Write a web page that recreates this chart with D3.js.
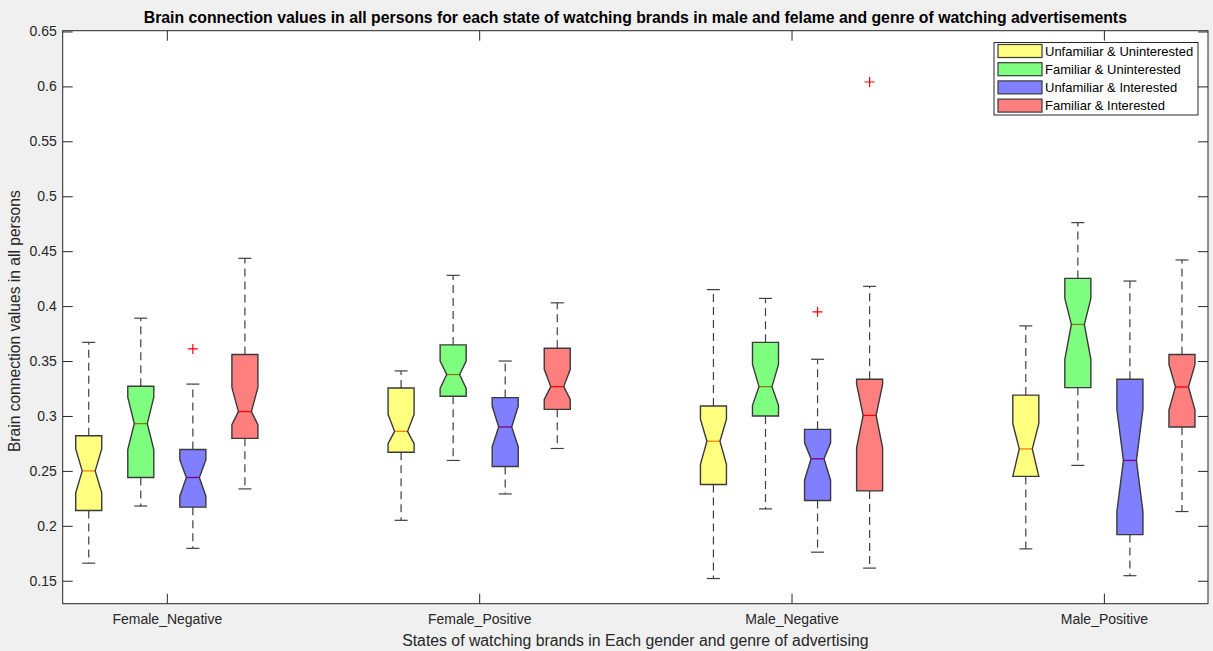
<!DOCTYPE html>
<html>
<head>
<meta charset="utf-8">
<script src="https://cdn.jsdelivr.net/npm/d3@7"></script>
<style>
  html, body { margin: 0; padding: 0; background: #f0f0f0; }
  svg { display: block; font-family: "Liberation Sans", Arial, sans-serif; }
</style>
</head>
<body>
<svg id="chart" width="1213" height="651"></svg>
<script>
// ---- data ----
const categories = ["Female_Negative", "Female_Positive", "Male_Negative", "Male_Positive"];
const seriesNames = ["Unfamiliar & Uninterested", "Familiar & Uninterested", "Unfamiliar & Interested", "Familiar & Interested"];
const seriesColors = ["#ffff00", "#00ff00", "#0000ff", "#ff0000"];
const yTicks = [0.15, 0.2, 0.25, 0.3, 0.35, 0.4, 0.45, 0.5, 0.55, 0.6, 0.65];

// per series: values for each category [FN, FP, MN, MP]
const whiskerLow = [
  [0.166, 0.205, 0.152, 0.179],
  [0.218, 0.2595, 0.2154, 0.255],
  [0.1795, 0.229, 0.176, 0.1546],
  [0.2336, 0.2704, 0.1615, 0.213]
];
const q1 = [
  [0.214, 0.267, 0.2376, 0.245],
  [0.244, 0.318, 0.300, 0.3258],
  [0.217, 0.254, 0.223, 0.192],
  [0.2796, 0.306, 0.2318, 0.290]
];
const medians = [
  [0.250, 0.286, 0.277, 0.270],
  [0.293, 0.3377, 0.3267, 0.3833],
  [0.244, 0.290, 0.261, 0.2595],
  [0.304, 0.3267, 0.3005, 0.3264]
];
const q3 = [
  [0.282, 0.3255, 0.309, 0.319],
  [0.327, 0.3647, 0.367, 0.4252],
  [0.2695, 0.3167, 0.2878, 0.3334],
  [0.356, 0.3617, 0.3334, 0.356]
];
const whiskerHigh = [
  [0.367, 0.341, 0.415, 0.382],
  [0.389, 0.428, 0.407, 0.476],
  [0.329, 0.350, 0.3516, 0.4228],
  [0.4435, 0.403, 0.418, 0.442]
];
const notchLow = [
  [0.230, 0.2747, 0.256, 0.245],
  [0.2695, 0.325, 0.3097, 0.3516],
  [0.227, 0.272, 0.2415, 0.213],
  [0.292, 0.315, 0.271, 0.3054]
];
const notchHigh = [
  [0.270, 0.3015, 0.297, 0.293],
  [0.317, 0.350, 0.347, 0.407],
  [0.260, 0.309, 0.2756, 0.306],
  [0.326, 0.3425, 0.329, 0.347]
];
// outliers: [seriesIndex, categoryIndex, value]
const outliers = [
  [2, 0, 0.361],
  [2, 2, 0.3948],
  [3, 2, 0.604]
];

// ---- layout ----
const W = 1213, H = 651;
const plot = { left: 62.7, right: 1208, top: 30.7, bottom: 603.7 };
const svg = d3.select("#chart");
svg.append("rect").attr("width", W).attr("height", H).attr("fill", "#f0f0f0");
svg.append("rect").attr("x", plot.left).attr("y", plot.top)
  .attr("width", plot.right - plot.left).attr("height", plot.bottom - plot.top)
  .attr("fill", "#ffffff");

const x = d3.scaleLinear().domain([0.5, 22.5]).range([plot.left, plot.right]);
const y = d3.scaleLinear().domain([0.1291, 0.6507]).range([plot.bottom, plot.top]);

const pos = (ci, si) => 6 * ci + si + 1;
const groupCenter = ci => 6 * ci + 2.5;
const boxHalf = 0.25, notchHalf = 0.125, capHalf = 0.125;

const axisColor = "#262626";
const tickLen = 10;

// ---- boxes ----
const g = svg.append("g");
seriesNames.forEach((name, si) => {
  categories.forEach((cat, ci) => {
    const p = pos(ci, si);
    const xl = x(p - boxHalf), xr = x(p + boxHalf);
    const nl = x(p - notchHalf), nr = x(p + notchHalf);
    const xc = x(p);
    // whiskers
    g.append("line").attr("x1", xc).attr("x2", xc)
      .attr("y1", y(q3[si][ci])).attr("y2", y(whiskerHigh[si][ci]))
      .attr("stroke", "#404040").attr("stroke-width", 1.2).attr("stroke-dasharray", "8,5");
    g.append("line").attr("x1", xc).attr("x2", xc)
      .attr("y1", y(q1[si][ci])).attr("y2", y(whiskerLow[si][ci]))
      .attr("stroke", "#404040").attr("stroke-width", 1.2).attr("stroke-dasharray", "8,5");
    [whiskerHigh[si][ci], whiskerLow[si][ci]].forEach(v => {
      g.append("line").attr("x1", x(p - capHalf)).attr("x2", x(p + capHalf))
        .attr("y1", y(v)).attr("y2", y(v))
        .attr("stroke", "#404040").attr("stroke-width", 1.2);
    });
    // median (red, under translucent patch)
    g.append("line").attr("x1", nl).attr("x2", nr)
      .attr("y1", y(medians[si][ci])).attr("y2", y(medians[si][ci]))
      .attr("stroke", "#ff0000").attr("stroke-width", 1.3);
    // notched box
    const pts = [
      [xl, y(q1[si][ci])], [xl, y(notchLow[si][ci])], [nl, y(medians[si][ci])],
      [xl, y(notchHigh[si][ci])], [xl, y(q3[si][ci])], [xr, y(q3[si][ci])],
      [xr, y(notchHigh[si][ci])], [nr, y(medians[si][ci])], [xr, y(notchLow[si][ci])],
      [xr, y(q1[si][ci])]
    ];
    g.append("path").attr("d", d3.line()(pts) + "Z")
      .attr("fill", seriesColors[si]).attr("fill-opacity", 0.5)
      .attr("stroke", "#3a3a3a").attr("stroke-width", 1.4).attr("stroke-linejoin", "miter");
  });
});

// outliers
outliers.forEach(([si, ci, v]) => {
  const cx = x(pos(ci, si)), cy = y(v), s = 5;
  g.append("path").attr("d", `M${cx - s},${cy}H${cx + s}M${cx},${cy - s}V${cy + s}`)
    .attr("stroke", "#ff0000").attr("stroke-width", 1.2);
});

// ---- axes ----
const yAxisL = d3.axisLeft(y).tickValues(yTicks).tickSize(-tickLen).tickFormat(d3.format("~g"));
const yAxisR = d3.axisRight(y).tickValues(yTicks).tickSize(-tickLen).tickFormat("");
const xAxisB = d3.axisBottom(x).tickValues(categories.map((c, i) => groupCenter(i)))
  .tickSize(-tickLen).tickFormat((d, i) => categories[i]);
const xAxisT = d3.axisTop(x).tickValues(categories.map((c, i) => groupCenter(i)))
  .tickSize(-tickLen).tickFormat("");

function styleAxis(sel) {
  sel.select(".domain").remove();
  sel.selectAll("line").attr("stroke", axisColor).attr("stroke-width", 1);
  sel.selectAll("text").attr("fill", "#262626").style("font-size", "14px")
    .style("font-family", "'Liberation Sans', Arial, sans-serif");
}
const gyl = svg.append("g").attr("transform", `translate(${plot.left},0)`).call(yAxisL).call(styleAxis);
gyl.selectAll("text").attr("x", -6);
svg.append("g").attr("transform", `translate(${plot.right},0)`).call(yAxisR).call(styleAxis);
const gxb = svg.append("g").attr("transform", `translate(0,${plot.bottom})`).call(xAxisB).call(styleAxis);
gxb.selectAll("text").attr("y", 10).attr("dy", "0.71em");
svg.append("g").attr("transform", `translate(0,${plot.top})`).call(xAxisT).call(styleAxis);

// frame
svg.append("rect").attr("x", plot.left).attr("y", plot.top)
  .attr("width", plot.right - plot.left).attr("height", plot.bottom - plot.top)
  .attr("fill", "none").attr("stroke", axisColor).attr("stroke-width", 1);

// ---- labels ----
svg.append("text").attr("x", (plot.left + plot.right) / 2).attr("y", 22.5)
  .attr("text-anchor", "middle").attr("font-weight", "bold").attr("font-size", 15.8).attr("fill", "#000")
  .text("Brain connection values in all persons for each state of watching brands in male and felame and genre of watching advertisements");
svg.append("text").attr("x", (plot.left + plot.right) / 2).attr("y", 646)
  .attr("text-anchor", "middle").attr("font-size", 15.8).attr("fill", "#262626")
  .text("States of watching brands in Each gender and genre of advertising");
svg.append("text").attr("transform", `translate(20,${(plot.top + plot.bottom) / 2 + 4}) rotate(-90)`)
  .attr("text-anchor", "middle").attr("font-size", 15.6).attr("fill", "#262626")
  .text("Brain connection values in all persons");

// ---- legend ----
const lg = svg.append("g");
lg.append("rect").attr("x", 994).attr("y", 42.5).attr("width", 204).attr("height", 72.5)
  .attr("fill", "#ffffff").attr("stroke", axisColor).attr("stroke-width", 1);
seriesNames.forEach((name, i) => {
  const cy = 51 + i * 18.2;
  lg.append("rect").attr("x", 998).attr("y", cy - 6.5).attr("width", 44).attr("height", 13)
    .attr("fill", seriesColors[i]).attr("fill-opacity", 0.5)
    .attr("stroke", "#3a3a3a").attr("stroke-width", 1.2);
  lg.append("text").attr("x", 1045).attr("y", cy).attr("dy", "0.35em")
    .attr("font-size", 13).attr("fill", "#000").text(name);
});
</script>
</body>
</html>
